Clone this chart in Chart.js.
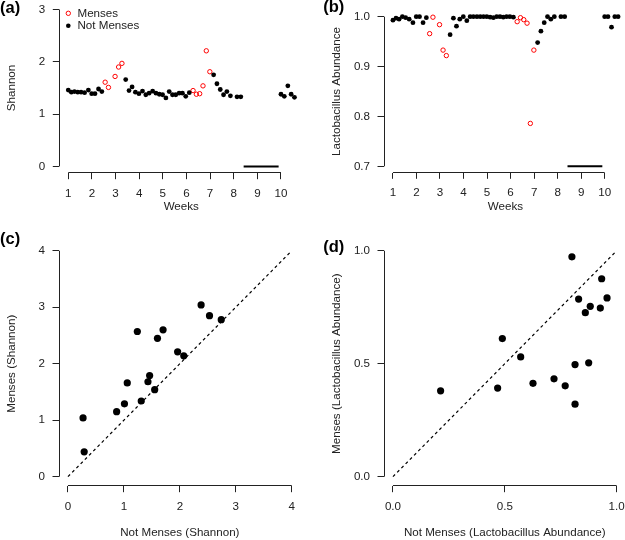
<!DOCTYPE html>
<html>
<head>
<meta charset="utf-8">
<script src="https://cdn.jsdelivr.net/npm/chart.js@4.4.1/dist/chart.umd.min.js"></script>
<style>
  html, body { margin: 0; padding: 0; background: #fff; width: 625px; height: 540px; overflow: hidden; position: relative; }
  canvas { position: absolute; }
</style>
</head>
<body>
<canvas id="chartA" style="left:0;top:0" width="310" height="220"></canvas>
<canvas id="chartB" style="left:310px;top:0" width="320" height="220"></canvas>
<canvas id="chartC" style="left:0;top:220px" width="310" height="320"></canvas>
<canvas id="chartD" style="left:310px;top:220px" width="320" height="320"></canvas>
<script>
// ---- data ----
// time points (weeks) of the samples, daily sampling
const weeksNotMenses = [1.00, 1.13, 1.26, 1.40, 1.54, 1.69, 1.85, 1.99, 2.13, 2.28, 2.42,
  3.43, 3.57, 3.70, 3.84, 3.99, 4.14, 4.28, 4.42, 4.57, 4.71, 4.85, 4.99, 5.13, 5.27, 5.41, 5.55, 5.69, 5.83, 5.97, 6.12,
  7.15, 7.29, 7.43, 7.57, 7.71, 7.86, 8.14, 8.30,
  10.00, 10.14, 10.29, 10.43, 10.57];
const weeksMenses = [2.56, 2.70, 2.98, 3.13, 3.27, 6.28, 6.42, 6.56, 6.70, 6.84, 6.99];

// (a) Shannon diversity
const shannonNotMenses = [1.46, 1.42, 1.43, 1.42, 1.42, 1.41, 1.46, 1.39, 1.39, 1.48, 1.43,
  1.66, 1.45, 1.52, 1.42, 1.39, 1.44, 1.37, 1.40, 1.44, 1.40, 1.38, 1.37, 1.31, 1.43, 1.37, 1.37, 1.40, 1.40, 1.34, 1.41,
  1.75, 1.58, 1.47, 1.37, 1.43, 1.35, 1.33, 1.33,
  1.38, 1.34, 1.54, 1.38, 1.32];
const shannonMenses = [1.61, 1.51, 1.72, 1.90, 1.97, 1.45, 1.38, 1.39, 1.54, 2.21, 1.81];

// (b) Lactobacillus abundance
const lactoNotMenses = [0.993, 0.997, 0.995, 1.0, 0.998, 0.995, 0.988, 1.0, 1.0, 0.988, 0.998,
  0.964, 0.997, 0.981, 0.995, 1.0, 0.992, 1.0, 1.0, 1.0, 1.0, 1.0, 1.0, 0.999, 0.998, 1.0, 1.0, 0.999, 1.0, 1.0, 0.999,
  0.948, 0.971, 0.988, 1.0, 0.995, 1.0, 1.0, 1.0,
  1.0, 1.0, 0.979, 1.0, 1.0];
const lactoMenses = [0.966, 0.999, 0.984, 0.933, 0.922, 0.990, 0.998, 0.994, 0.987, 0.786, 0.933];

// black bar along the bottom of (a) and (b)
const gapWeeks = [8.42, 9.90];

// (c) per-subject Shannon, not menses vs menses
const notMensesShannon = [0.27, 0.29, 0.87, 1.01, 1.06, 1.24, 1.31, 1.43, 1.46, 1.55, 1.60, 1.70, 1.96, 2.07, 2.38, 2.53, 2.74];
const mensesShannon = [1.04, 0.44, 1.15, 1.29, 1.66, 2.57, 1.34, 1.68, 1.79, 1.54, 2.45, 2.60, 2.21, 2.14, 3.04, 2.85, 2.78];

// (d) per-subject Lactobacillus abundance
const notMensesLacto = [0.213, 0.468, 0.489, 0.571, 0.626, 0.720, 0.770, 0.800, 0.814, 0.814, 0.830, 0.860, 0.875, 0.882, 0.927, 0.933, 0.957];
const mensesLacto = [0.380, 0.392, 0.611, 0.530, 0.413, 0.433, 0.402, 0.973, 0.321, 0.496, 0.786, 0.726, 0.504, 0.754, 0.746, 0.876, 0.791];

// tick labels
const weekTicks = [1, 2, 3, 4, 5, 6, 7, 8, 9, 10];
const shannonTicks = [0, 1, 2, 3];
const lactoTicks = [0.7, 0.8, 0.9, 1.0];
const shannonPairTicks = [0, 1, 2, 3, 4];
const lactoPairTicks = [0, 0.5, 1.0];

// ---- styling helpers ----
const INK = '#222';
const FONT = {family: "'Liberation Sans', Arial, sans-serif", size: 11.6};
const BOLD = {family: "'Liberation Sans', Arial, sans-serif", size: 16.5, weight: 'bold'};

function zip(xs, ys){
    return xs.map((x, i) => ({x: x, y: ys[i]}));
}

// R style axis: ticks only where asked, fixed box size
function rScale(min, max, tickVals, fmt, title, size, titlePad){
    return {
        type: 'linear', min: min, max: max, bounds: 'data',
        afterBuildTicks: s => { s.ticks = tickVals.map(v => ({value: v})); },
        afterFit: s => {
            if (s.isHorizontal()) s.height = size; else s.width = size;
            s.paddingTop = s.paddingBottom = s.paddingLeft = s.paddingRight = 0;
        },
        grid: {drawOnChartArea: false, drawTicks: true, tickLength: 6.5, color: INK},
        border: {display: true, color: 'rgba(0,0,0,0)', width: 1},
        ticks: {color: INK, font: FONT, padding: 7.5, autoSkip: false, maxRotation: 0, callback: v => fmt(v)},
        title: {display: true, text: title, color: INK, font: FONT, padding: titlePad}
    };
}

// axis line that runs from first to last tick only
const rAxisLines = {
    id: 'rAxisLines',
    afterDraw(chart){
        const ctx = chart.ctx, area = chart.chartArea;
        const xs = chart.scales.x, ys = chart.scales.y;
        const yb = Math.round(area.bottom - 0.5) + 0.5;
        const xl = Math.round(area.left - 0.5) + 0.5;
        ctx.save();
        ctx.strokeStyle = INK;
        ctx.lineWidth = 1;
        ctx.beginPath();
        ctx.moveTo(xs.getPixelForValue(xs.ticks[0].value), yb);
        ctx.lineTo(xs.getPixelForValue(xs.ticks[xs.ticks.length - 1].value), yb);
        ctx.moveTo(xl, ys.getPixelForValue(ys.ticks[0].value));
        ctx.lineTo(xl, ys.getPixelForValue(ys.ticks[ys.ticks.length - 1].value));
        ctx.stroke();
        ctx.restore();
    }
};

function panelLabel(text, x, y){
    return {
        id: 'panelLabel',
        afterDraw(chart){
            const ctx = chart.ctx;
            ctx.save();
            ctx.fillStyle = '#000';
            ctx.font = 'bold ' + BOLD.size + 'px ' + BOLD.family;
            ctx.textAlign = 'left';
            ctx.textBaseline = 'middle';
            ctx.fillText(text, x, y);
            ctx.restore();
        }
    };
}

// small legend in the corner of (a)
const cornerLegend = {
    id: 'cornerLegend',
    afterDraw(chart){
        const ctx = chart.ctx;
        ctx.save();
        ctx.font = FONT.size + 'px ' + FONT.family;
        ctx.textBaseline = 'middle';
        ctx.fillStyle = INK;
        ctx.fillText('Menses', 77.5, 13.5);
        ctx.fillText('Not Menses', 77.5, 26);
        ctx.beginPath();
        ctx.arc(68.3, 13.3, 2.2, 0, Math.PI * 2);
        ctx.strokeStyle = '#f00';
        ctx.lineWidth = 1;
        ctx.stroke();
        ctx.beginPath();
        ctx.arc(68.3, 25.7, 2.3, 0, Math.PI * 2);
        ctx.fillStyle = '#000';
        ctx.fill();
        ctx.restore();
    }
};

function timeDatasets(notVals, mensVals, barY){
    return [
        {data: zip(gapWeeks, [barY, barY]), showLine: true, borderColor: '#000', borderWidth: 2, pointRadius: 0},
        {data: zip(weeksNotMenses, notVals), backgroundColor: '#000', borderWidth: 0, pointRadius: 2.4, pointHoverRadius: 2.4},
        {data: zip(weeksMenses, mensVals), backgroundColor: 'rgba(0,0,0,0)', borderColor: '#f00', borderWidth: 1, pointRadius: 2.2, pointHoverRadius: 2.2}
    ];
}

function pairDatasets(xs, ys, lineEnd){
    return [
        {data: zip([0, lineEnd], [0, lineEnd]), showLine: true, borderColor: '#000', borderWidth: 1.2, borderDash: [3, 3], pointRadius: 0},
        {data: zip(xs, ys), backgroundColor: '#000', borderWidth: 0, pointRadius: 3.6, pointHoverRadius: 3.6}
    ];
}

function makeChart(id, datasets, padding, xScale, yScale, plugins){
    new Chart(document.getElementById(id), {
        type: 'scatter',
        data: {datasets: datasets},
        options: {
            responsive: false,
            animation: false,
            events: [],
            layout: {padding: padding},
            plugins: {legend: {display: false}, tooltip: {enabled: false}},
            scales: {x: xScale, y: yScale}
        },
        plugins: plugins
    });
}

const intFmt = v => String(v);
const oneDec = v => v.toFixed(1);

// (a)
makeChart('chartA', timeDatasets(shannonNotMenses, shannonMenses, 0),
    {top: 0.3, right: 6.8, left: 0, bottom: 0},
    rScale(0.62, 10.94, weekTicks, intFmt, 'Weeks', 47.3, {top: 0, bottom: 6.1}),
    rScale(-0.12, 3.12, shannonTicks, intFmt, 'Shannon', 59.3, {top: 5.1, bottom: 0}),
    [rAxisLines, panelLabel('(a)', 0, 8), cornerLegend]);

// (b)
makeChart('chartB', timeDatasets(lactoNotMenses, lactoMenses, 0.7),
    {top: 10.7, right: 1.8, left: 0, bottom: 0},
    rScale(0.62, 10.94, weekTicks, intFmt, 'Weeks', 47.7, {top: 0, bottom: 6.1}),
    rScale(0.688, 1.012, lactoTicks, oneDec, 'Lactobacillus Abundance', 74, {top: 19.8, bottom: 0}),
    [rAxisLines, panelLabel('(b)', 13.3, 7)]);

// (c)
makeChart('chartC', pairDatasets(notMensesShannon, mensesShannon, 4),
    {top: 21.7, right: 9.3, left: 0, bottom: 0},
    rScale(-0.16, 4.16, shannonPairTicks, intFmt, 'Not Menses (Shannon)', 54.3, {top: 0, bottom: 0}),
    rScale(-0.16, 4.16, shannonPairTicks, intFmt, 'Menses (Shannon)', 59, {top: 4.8, bottom: 0}),
    [rAxisLines, panelLabel('(c)', 0, 19)]);

// (d)
makeChart('chartD', pairDatasets(notMensesLacto, mensesLacto, 1),
    {top: 21.7, right: 4.4, left: 0, bottom: 0},
    rScale(-0.04, 1.04, lactoPairTicks, oneDec, 'Not Menses (Lactobacillus Abundance)', 54.3, {top: 0, bottom: 0}),
    rScale(-0.04, 1.04, lactoPairTicks, oneDec, 'Menses (Lactobacillus Abundance)', 74, {top: 19.8, bottom: 0}),
    [rAxisLines, panelLabel('(d)', 13.3, 27.5)]);
</script>
</body>
</html>
